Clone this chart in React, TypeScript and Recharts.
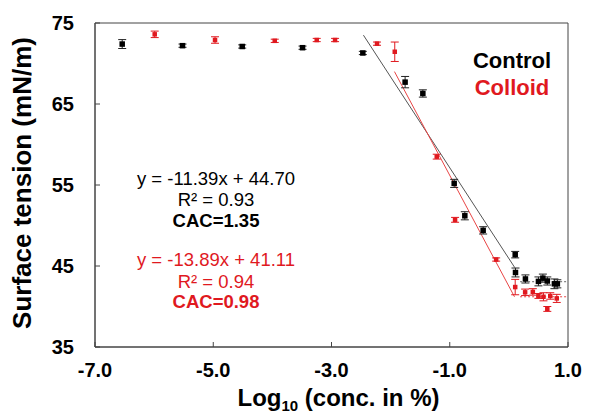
// Surface tension vs log10 concentration, Control vs Colloid, with CAC fit lines.

import { ComposedChart, Scatter, Line, XAxis, YAxis, ErrorBar, ReferenceArea } from "recharts";

const FONT = "'Liberation Sans', Arial, sans-serif";
const RED = "#e0191f";

const xTicks = [-7, -5, -3, -1, 1];
const yTicks = [35, 45, 55, 65, 75];

// Control (black)
const controlLog = [-6.54, -5.52, -4.51, -3.49, -2.47, -1.755, -1.455, -0.925, -0.745, -0.435, 0.107, 0.112, 0.28, 0.5, 0.575, 0.65, 0.77, 0.82];
const controlTension = [72.4, 72.2, 72.1, 71.95, 71.3, 67.7, 66.3, 55.2, 51.2, 49.4, 46.4, 44.2, 43.4, 43.1, 43.5, 43.15, 42.8, 42.8];
const controlErr = [0.55, 0.2, 0.2, 0.2, 0.2, 0.7, 0.45, 0.5, 0.5, 0.45, 0.4, 0.55, 0.5, 0.55, 0.5, 0.5, 0.6, 0.5];

// Colloid (red)
const colloidLog = [-5.99, -4.97, -3.96, -3.25, -2.94, -2.23, -1.93, -1.22, -0.91, -0.215, 0.107, 0.275, 0.405, 0.5, 0.585, 0.65, 0.7, 0.81];
const colloidTension = [73.6, 72.9, 72.8, 72.9, 72.9, 72.45, 71.45, 58.5, 50.7, 45.8, 42.4, 41.75, 41.8, 41.3, 41.2, 39.7, 41.3, 41.0];
const colloidErr = [0.4, 0.4, 0.2, 0.2, 0.2, 0.2, 1.2, 0.3, 0.3, 0.2, 0.95, 0.4, 0.4, 0.3, 0.5, 0.3, 0.4, 0.5];

// fitted lines (end points)
const controlFitLog = [-2.46, 0.1];
const controlFitTension = [73.5, 44.8];
const colloidFitLog = [-1.935, 0.095];
const colloidFitTension = [69.0, 41.2];

// plateau (dashed) lines
const plateauLog = [0.19, 1.0];
const controlPlateau = [43.06, 43.06];
const colloidPlateau = [41.2, 41.2];

const toPoints = (xs: number[], ys: number[], errs?: number[]) =>
  xs.map((x, i) => ({ x, y: ys[i], err: errs ? errs[i] : 0 }));

const controlData = toPoints(controlLog, controlTension, controlErr);
const colloidData = toPoints(colloidLog, colloidTension, colloidErr);
const controlFit = toPoints(controlFitLog, controlFitTension);
const colloidFit = toPoints(colloidFitLog, colloidFitTension);
const controlFlat = toPoints(plateauLog, controlPlateau);
const colloidFlat = toPoints(plateauLog, colloidPlateau);

const square = (size: number, color: string) => (props: any) => (
  <rect x={props.cx - size / 2} y={props.cy - size / 2} width={size} height={size} fill={color} />
);

const tickStyle = { fontSize: 20, fontWeight: "bold", fill: "#000", fontFamily: FONT };

export default function App() {
  return (
    <div style={{ position: "absolute", left: 0, top: 0, width: 592, height: 416, background: "#fff" }}>
      <ComposedChart width={592} height={416} margin={{ top: 23, right: 24, bottom: 0, left: 0 }}>
        <XAxis
          type="number"
          dataKey="x"
          domain={[-7, 1]}
          ticks={xTicks}
          tickFormatter={(v) => v.toFixed(1)}
          height={69}
          tickSize={-5}
          tickMargin={21}
          tick={tickStyle}
          stroke="#444"
          allowDataOverflow
          label={{
            content: (p: any) => {
              const vb = p.viewBox;
              return (
                <text x={vb.x + vb.width / 2 + 7} y={406} textAnchor="middle" fontFamily={FONT} fontWeight="bold" fontSize={24} fill="#000">
                  Log<tspan fontSize={15} dy={5}>10</tspan>
                  <tspan dy={-5}> (conc. in %)</tspan>
                </text>
              );
            },
          }}
        />
        <YAxis
          type="number"
          dataKey="y"
          domain={[35, 75]}
          ticks={yTicks}
          width={95}
          tickSize={-5}
          tickMargin={26}
          tick={tickStyle}
          stroke="#444"
          allowDataOverflow
          label={{
            content: () => (
              <text transform="translate(31,183) rotate(-90)" textAnchor="middle" fontFamily={FONT} fontWeight="bold" fontSize={26} fill="#000">
                Surface tension (mN/m)
              </text>
            ),
          }}
        />
        <ReferenceArea x1={-7} x2={1} y1={35} y2={75} fill="none" stroke="#444" strokeWidth={1} ifOverflow="extendDomain" />

        <Line data={controlFit} dataKey="y" type="linear" stroke="#555" strokeWidth={1} dot={false} isAnimationActive={false} />
        <Line data={colloidFit} dataKey="y" type="linear" stroke="#e84545" strokeWidth={1} dot={false} isAnimationActive={false} />
        <Line data={controlFlat} dataKey="y" type="linear" stroke="#666" strokeWidth={1} strokeDasharray="2 2" dot={false} isAnimationActive={false} />
        <Line data={colloidFlat} dataKey="y" type="linear" stroke="#e84545" strokeWidth={1} strokeDasharray="2 2" dot={false} isAnimationActive={false} />

        <Scatter data={colloidData} shape={square(4.5, RED)} isAnimationActive={false}>
          <ErrorBar dataKey="err" direction="y" width={4} stroke={RED} strokeWidth={1} />
        </Scatter>
        <Scatter data={controlData} shape={square(5.5, "#000")} isAnimationActive={false}>
          <ErrorBar dataKey="err" direction="y" width={4} stroke="#222" strokeWidth={1} />
        </Scatter>
      </ComposedChart>

      <svg width={592} height={416} style={{ position: "absolute", left: 0, top: 0, pointerEvents: "none" }}>
        <g fontFamily={FONT} textAnchor="middle">
          <text x={512} y={68} fontSize={22} fontWeight="bold" fill="#000">Control</text>
          <text x={512} y={95} fontSize={22} fontWeight="bold" fill={RED}>Colloid</text>

          <text x={216} y={185} fontSize={18.5} fill="#000">y = -11.39x + 44.70</text>
          <text x={216} y={206} fontSize={18.5} fill="#000">R² = 0.93</text>
          <text x={216} y={227} fontSize={18.5} fontWeight="bold" fill="#000">CAC=1.35</text>

          <text x={216} y={266} fontSize={18.5} fill={RED}>y = -13.89x + 41.11</text>
          <text x={216} y={288} fontSize={18.5} fill={RED}>R² = 0.94</text>
          <text x={216} y={308} fontSize={18.5} fontWeight="bold" fill={RED}>CAC=0.98</text>
        </g>
      </svg>
    </div>
  );
}
